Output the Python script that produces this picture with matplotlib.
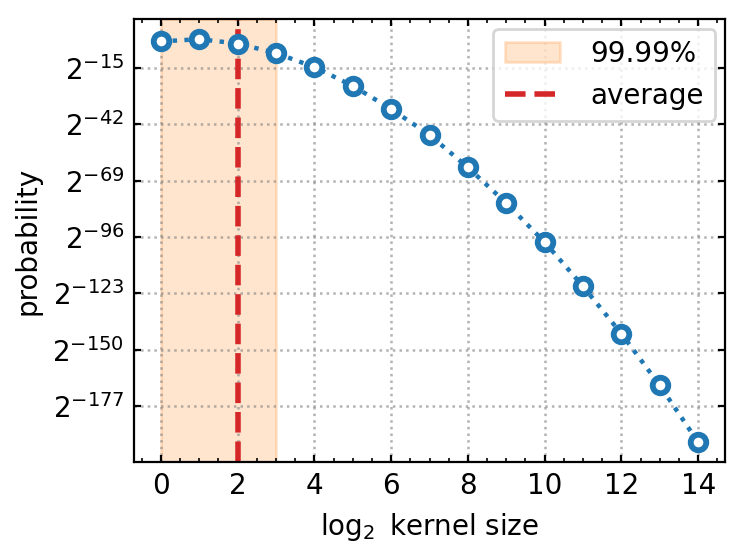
import matplotlib
matplotlib.use("Agg")
import matplotlib.pyplot as plt
import numpy as np
from matplotlib.ticker import MultipleLocator, LogFormatterSciNotation, NullLocator

# data
kernel_log2 = list(range(15))
log2_prob = [-2.2, -1.1, -3.2, -7.8, -14.5, -23.5, -34.6, -47.0, -62.6, -79.7,
             -98.4, -119.6, -142.3, -167.1, -194.3]
span_lo, span_hi = 0, 3
average = 2
ytick_exps = [-15, -42, -69, -96, -123, -150, -177]
xticks = [0, 2, 4, 6, 8, 10, 12, 14]

plt.rcParams['font.size'] = 10
fig = plt.figure(figsize=(7.47 / 2, 5.56 / 2), dpi=200)
ax = fig.add_axes([134 / 747, 1 - 462.3 / 556, (725 - 134) / 747, (462.3 - 19) / 556])

probs = [2.0 ** e for e in log2_prob]
ax.axvspan(span_lo, span_hi, color='tab:orange', alpha=0.2, label='99.99%', zorder=0)
ax.axvline(average, color='tab:red', ls='--', lw=2, label='average', zorder=2)
ax.plot(kernel_log2, probs, ls=':', lw=1.6, color='tab:blue', marker='o',
        ms=5.6, mew=2.1, mfc='white', mec='tab:blue', zorder=3)

ax.set_yscale('log', base=2)
ax.set_yticks([2.0 ** e for e in ytick_exps])
ax.yaxis.set_major_formatter(LogFormatterSciNotation(base=2))
ax.yaxis.set_minor_locator(NullLocator())
ax.set_xticks(xticks)
ax.xaxis.set_minor_locator(MultipleLocator(0.5))

ax.grid(True, which='major', ls=':', color='gray', alpha=0.6, lw=0.9)
ax.tick_params(which='both', direction='in', top=True, right=True)
ax.tick_params(which='major', length=2.6)
ax.tick_params(which='minor', length=1.5)

ax.set_xlabel(r'$\log_2$ kernel size')
ax.set_ylabel('probability')
ax.legend(loc='upper right', borderaxespad=0.35, handletextpad=1.1)

fig.savefig('out.png', dpi=200)
